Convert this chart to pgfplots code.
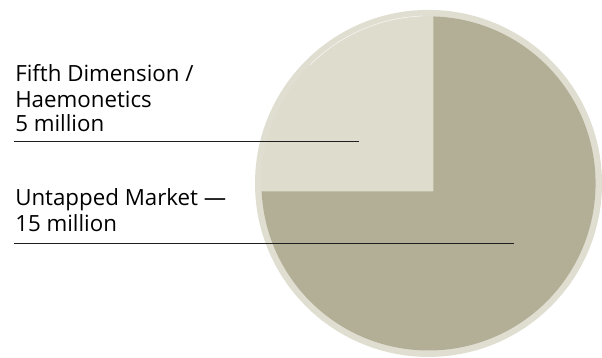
\documentclass[border=0pt]{standalone}
\usepackage{pgfplots}
\usepackage{pgfplotstable}
\pgfplotsset{compat=1.18}
\usepackage{fontspec}
\setmainfont{Open Sans}
\definecolor{ringc}{RGB}{223,222,209}
\definecolor{lightc}{RGB}{222,220,205}
\definecolor{darkc}{RGB}{179,175,150}
\definecolor{linec}{RGB}{30,30,30}
\pgfplotstableread{
label value
Fifth 5
Untapped 15
}\piedata
\begin{document}
\pgfplotstablegetelem{0}{value}\of\piedata \let\va\pgfplotsretval
\pgfplotstablegetelem{1}{value}\of\piedata \let\vb\pgfplotsretval
\pgfmathsetmacro\angA{90+360*\va/(\va+\vb)}
\pgfmathsetmacro\angB{\angA+360*\vb/(\va+\vb)}
\begin{tikzpicture}
\begin{axis}[
  scale only axis, width=602pt, height=361pt,
  xmin=0, xmax=602, ymin=0, ymax=361,
  hide axis, clip=true,
]
\addplot[draw=none] coordinates {(0,0) (602,361)};
\begin{pgfinterruptboundingbox}
% outer rim
\fill[ringc] (axis cs:427,176) circle [radius=175pt];
\begin{scope}
\clip (axis cs:427,176) circle [radius=168.5pt];
\fill[lightc] (axis cs:432,168) -- ++(90:400pt) arc[start angle=90, end angle=\angA, radius=400pt] -- cycle;
\fill[darkc] (axis cs:432,168) -- ++(\angA:400pt) arc[start angle=\angA, end angle=\angB, radius=400pt] -- cycle;
\end{scope}
\draw[white, opacity=0.7, line width=0.6pt] (axis cs:427,176) ++(92:169pt) arc[start angle=92, end angle=135, radius=169pt];
\end{pgfinterruptboundingbox}
\draw[linec, line width=1pt] (axis cs:9,218) -- (axis cs:357,218);
\draw[linec, line width=1pt] (axis cs:9,115) -- (axis cs:513,115);
\tikzset{lab/.style={anchor=base west, inner sep=0pt, font=\fontsize{22.5}{27}\selectfont}}
\node[lab] at (axis cs:10,279) {Fifth Dimension /};
\node[lab] at (axis cs:10,253) {Haemonetics};
\node[lab] at (axis cs:10,228) {5 million};
\node[lab] at (axis cs:10,154) {Untapped Market —};
\node[lab] at (axis cs:10,128) {15 million};
\end{axis}
\pgfresetboundingbox
\path[use as bounding box] (current axis.south west) rectangle (current axis.north east);
\end{tikzpicture}
\end{document}
